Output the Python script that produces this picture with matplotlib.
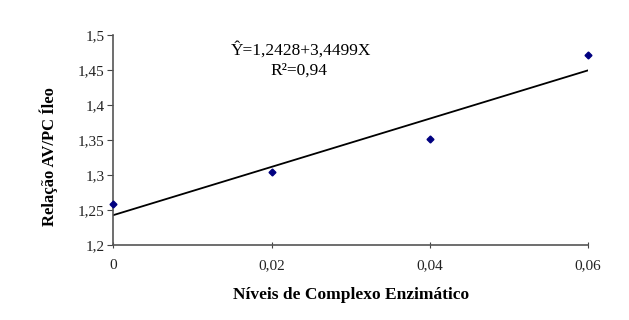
import matplotlib.pyplot as plt
import numpy as np

plt.rcParams['font.family'] = ['Liberation Serif', 'DejaVu Serif']

niveis = [0, 0.02, 0.04, 0.06]
relacao = [1.259, 1.305, 1.351, 1.471]
b0 = 1.2428
b1 = 3.4499

x_ticks = [0, 0.02, 0.04, 0.06]
x_labels = ["0", "0,02", "0,04", "0,06"]
y_ticks = [1.2, 1.25, 1.3, 1.35, 1.4, 1.45, 1.5]
y_labels = ["1,2", "1,25", "1,3", "1,35", "1,4", "1,45", "1,5"]

fig = plt.figure(figsize=(6.29, 3.2), dpi=100)
ax = fig.add_axes([0.18, 0.234, 0.755, 0.656])

xr = np.array([0, 0.06])
ax.plot(xr, b0 + b1 * xr, color='black', lw=1.3, zorder=2)
ax.plot(niveis, relacao, linestyle='none', marker='D', markersize=3.5, color='#000080', zorder=3, clip_on=False)

ax.set_xlim(0, 0.06)
ax.set_ylim(1.2, 1.5)
ax.set_xticks(x_ticks)
ax.set_xticklabels(x_labels)
ax.set_yticks(y_ticks)
ax.set_yticklabels(y_labels)
ax.tick_params(labelsize=11, length=4, color='#444444', colors='#222222')
ax.tick_params(axis='x', direction='inout', pad=8)
ax.tick_params(axis='y', pad=2)

for s in ['top', 'right']:
    ax.spines[s].set_visible(False)
for s in ['left', 'bottom']:
    ax.spines[s].set_color('#555555')
    ax.spines[s].set_linewidth(1.2)

ax.set_xlabel("Níveis de Complexo Enzimático", fontweight='bold', fontsize=12.5)
ax.set_ylabel("Relação AV/PC Íleo", fontweight='bold', fontsize=12)
ax.xaxis.set_label_coords(0.5, -0.2)
ax.yaxis.set_label_coords(-0.116, 0.42)

ax.text(0.02375, 1.479, "Ŷ=1,2428+3,4499X", ha='center', va='center', fontsize=12.5)
ax.text(0.0235, 1.449, "R²=0,94", ha='center', va='center', fontsize=12.5)

fig.savefig("out.png", dpi=100)
